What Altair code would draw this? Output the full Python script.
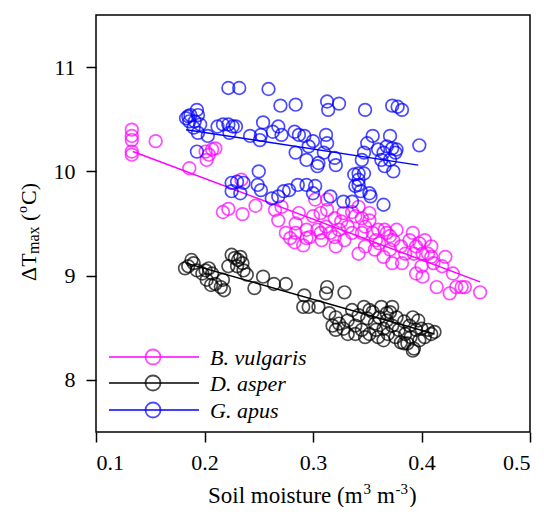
import altair as alt
import pandas as pd

# ---------------- data ----------------
series_names = ["B. vulgaris", "D. asper", "G. apus"]
series_colors = ["#ff00ff", "#000000", "#0000ff"]

bv_x = [0.133, 0.133, 0.133, 0.133, 0.133, 0.155, 0.186, 0.201, 0.204, 0.207, 0.210, 0.202,
        0.217, 0.222, 0.235, 0.247, 0.234,
        0.265, 0.268, 0.271, 0.275, 0.279, 0.284, 0.287, 0.291, 0.294, 0.297, 0.300, 0.302,
        0.304, 0.307, 0.308, 0.312, 0.313, 0.316, 0.320, 0.321, 0.324, 0.328, 0.329, 0.332,
        0.336, 0.339, 0.342, 0.342, 0.345, 0.348, 0.352, 0.355, 0.357, 0.360, 0.361, 0.365,
        0.368, 0.371, 0.373, 0.374, 0.377, 0.381, 0.382, 0.385, 0.389, 0.392, 0.393, 0.395,
        0.398, 0.400, 0.401, 0.403, 0.406, 0.409, 0.411, 0.414, 0.419, 0.422, 0.426, 0.429,
        0.432, 0.437, 0.440, 0.454,
        0.336, 0.313, 0.352, 0.366, 0.358, 0.320, 0.307, 0.294, 0.284, 0.395, 0.401, 0.409,
        0.348, 0.283, 0.326, 0.345, 0.371]
bv_y = [10.40, 10.34, 10.30, 10.19, 10.16, 10.29, 10.03, 10.19, 10.16, 10.21, 10.22, 10.11,
        9.61, 9.64, 9.59, 9.67, 9.92,
        9.63, 9.53, 9.66, 9.41, 9.36, 9.50, 9.60, 9.29, 9.44, 9.37, 9.57, 9.73,
        9.44, 9.60, 9.34, 9.47, 9.73, 9.41, 9.55, 9.28, 9.44, 9.60, 9.34, 9.47,
        9.41, 9.57, 9.66, 9.21, 9.41, 9.47, 9.60, 9.41, 9.25, 9.44, 9.31, 9.18,
        9.41, 9.25, 9.12, 9.34, 9.44, 9.28, 9.12, 9.21, 9.34, 9.41, 9.21, 9.02,
        9.31, 9.09, 8.99, 9.34, 9.21, 9.28, 9.12, 8.89, 9.09, 9.18, 8.83, 9.02,
        8.89, 8.89, 8.89, 8.84,
        9.61, 9.63, 9.53, 9.44, 9.34, 9.37, 9.41, 9.36, 9.41, 9.28, 9.21, 9.18,
        9.28, 9.32, 9.52, 9.55, 9.38]

da_x = [0.182, 0.185, 0.190, 0.193, 0.198, 0.201, 0.204, 0.207, 0.202, 0.206, 0.210, 0.215,
        0.218, 0.217, 0.188,
        0.222, 0.225, 0.228, 0.231, 0.235, 0.236, 0.230, 0.239, 0.233,
        0.246, 0.254, 0.264, 0.275,
        0.292, 0.291, 0.296, 0.305, 0.312, 0.313, 0.329, 0.315, 0.321, 0.324,
        0.328, 0.332, 0.336, 0.339, 0.342, 0.345, 0.347, 0.350, 0.352, 0.355, 0.357, 0.360,
        0.361, 0.363, 0.365, 0.368, 0.369, 0.371, 0.373, 0.376, 0.377, 0.379, 0.381, 0.384,
        0.385, 0.387, 0.389, 0.390, 0.392, 0.393, 0.395, 0.397, 0.398, 0.400, 0.403, 0.406,
        0.409, 0.412, 0.392, 0.373,
        0.318, 0.321, 0.332, 0.339, 0.348, 0.358, 0.365, 0.384, 0.352, 0.368]
da_y = [9.07, 9.09, 9.12, 9.05, 9.02, 9.05, 9.07, 9.02, 8.96, 8.91, 8.92, 8.89,
        8.86, 8.96, 9.15,
        9.09, 9.20, 9.17, 9.15, 9.12, 9.05, 9.09, 9.01, 9.18,
        8.88, 8.99, 8.92, 8.92,
        8.81, 8.70, 8.70, 8.70, 8.83, 8.89, 8.84, 8.64, 8.60, 8.54,
        8.49, 8.57, 8.67, 8.52, 8.62, 8.48, 8.70, 8.59, 8.44, 8.65, 8.54, 8.41,
        8.60, 8.70, 8.49, 8.57, 8.44, 8.65, 8.52, 8.41, 8.60, 8.48, 8.36, 8.56,
        8.44, 8.35, 8.52, 8.41, 8.60, 8.30, 8.48, 8.57, 8.38, 8.49, 8.41, 8.48,
        8.44, 8.46, 8.28, 8.70,
        8.52, 8.48, 8.44, 8.44, 8.41, 8.48, 8.38, 8.35, 8.67, 8.64]

ga_x = [0.222, 0.232, 0.259, 0.270, 0.284, 0.313, 0.314, 0.324, 0.348, 0.373, 0.378, 0.382,
        0.183, 0.187, 0.193, 0.194, 0.191, 0.196, 0.186, 0.194, 0.190, 0.185,
        0.193, 0.203, 0.212, 0.217, 0.222, 0.226, 0.229, 0.223,
        0.242, 0.252, 0.254, 0.251, 0.263, 0.268, 0.271, 0.283, 0.287, 0.292, 0.284,
        0.296, 0.300, 0.304, 0.305, 0.294, 0.312, 0.313, 0.310, 0.320, 0.321,
        0.338, 0.342, 0.347, 0.345, 0.342, 0.344, 0.347, 0.350, 0.355, 0.360, 0.365,
        0.368, 0.371, 0.373, 0.376, 0.377, 0.366, 0.374, 0.371, 0.363, 0.398,
        0.225, 0.230, 0.236, 0.233, 0.225, 0.249, 0.252, 0.250, 0.262, 0.268, 0.273,
        0.278, 0.286, 0.294, 0.302, 0.300, 0.316, 0.328, 0.336, 0.352, 0.353, 0.365,
        0.339, 0.342]
ga_y = [10.80, 10.80, 10.79, 10.63, 10.64, 10.67, 10.59, 10.65, 10.59, 10.63, 10.62, 10.59,
        10.51, 10.54, 10.59, 10.54, 10.48, 10.45, 10.48, 10.37, 10.42, 10.53,
        10.19, 10.34, 10.43, 10.45, 10.45, 10.43, 10.43, 10.37,
        10.34, 10.35, 10.47, 10.30, 10.38, 10.43, 10.35, 10.38, 10.35, 10.34, 10.18,
        10.24, 10.29, 10.05, 10.08, 10.11, 10.35, 10.27, 10.18, 10.13, 10.06,
        9.97, 9.98, 9.98, 10.11, 9.87, 9.81, 10.18, 10.27, 10.34, 10.21, 10.18,
        10.24, 10.34, 10.22, 10.18, 10.21, 10.05, 10.00, 10.11, 10.11, 10.25,
        9.89, 9.90, 9.89, 9.79, 9.81, 9.87, 9.82, 10.00, 9.74, 9.76, 9.81,
        9.82, 9.87, 9.87, 9.86, 9.79, 9.76, 9.71, 9.71, 9.79, 9.76, 9.68,
        9.86, 9.92]

# fitted-line end points
fit_x = {"B. vulgaris": [0.134, 0.454], "D. asper": [0.183, 0.412], "G. apus": [0.183, 0.397]}
fit_y = {"B. vulgaris": [10.19, 8.94], "D. asper": [9.12, 8.44], "G. apus": [10.40, 10.06]}

x_ticks = [0.1, 0.2, 0.3, 0.4, 0.5]
y_ticks = [8, 9, 10, 11]

# ---------------- build tables ----------------
pts = pd.concat([
    pd.DataFrame({"x": bv_x, "y": bv_y, "series": series_names[0]}),
    pd.DataFrame({"x": da_x, "y": da_y, "series": series_names[1]}),
    pd.DataFrame({"x": ga_x, "y": ga_y, "series": series_names[2]}),
], ignore_index=True)

fits = pd.concat([
    pd.DataFrame({"x": fit_x[s], "y": fit_y[s], "series": s}) for s in series_names
], ignore_index=True)

FONT = "Liberation Serif"
W, H = 434, 417

xscale = alt.Scale(domain=[0.1, 0.5], nice=False, zero=False)
yscale = alt.Scale(domain=[7.5, 11.5], nice=False, zero=False)
cscale = alt.Scale(domain=series_names, range=series_colors)

xaxis = alt.Axis(values=x_ticks, format=".1f", title=None, grid=False, domain=False,
                 tickSize=10, tickWidth=1.5, tickColor="black", labelFont=FONT,
                 labelFontSize=22, labelColor="black", labelPadding=10)
yaxis = alt.Axis(values=y_ticks, format="d", title=None, grid=False, domain=False,
                 tickSize=10, tickWidth=1.5, tickColor="black", labelFont=FONT,
                 labelFontSize=22, labelColor="black", labelPadding=11)

points = alt.Chart(pts).mark_point(shape="circle", filled=False, size=160, strokeWidth=1.7).encode(
    x=alt.X("x:Q", scale=xscale, axis=xaxis),
    y=alt.Y("y:Q", scale=yscale, axis=yaxis),
    color=alt.Color("series:N", scale=cscale, legend=None),
)

lines = alt.Chart(fits).mark_line(strokeWidth=1.5).encode(
    x=alt.X("x:Q", scale=xscale),
    y=alt.Y("y:Q", scale=yscale),
    color=alt.Color("series:N", scale=cscale, legend=None),
    detail="series:N",
)

# ---------------- legend (drawn manually) ----------------
legend_layers = []
row_y = [342, 368, 395]
for name, col, ry in zip(series_names, series_colors, row_y):
    d = pd.DataFrame({"label": [name]})
    legend_layers.append(alt.Chart(d).mark_rule(color=col, strokeWidth=1.5).encode(
        x=alt.value(13), x2=alt.value(103), y=alt.value(ry)))
    legend_layers.append(alt.Chart(d).mark_point(shape="circle", filled=False, size=225,
                                                 strokeWidth=1.8, color=col).encode(
        x=alt.value(57), y=alt.value(ry)))
    legend_layers.append(alt.Chart(d).mark_text(font=FONT, fontSize=22, fontStyle="italic",
                                                align="left", baseline="middle", color="black").encode(
        x=alt.value(114), y=alt.value(ry + 1), text="label:N"))

# ---------------- axis titles ----------------
def seg(text, x, y, size, align="left", angle=0, baseline="alphabetic"):
    d = pd.DataFrame({"t": [text]})
    kw = dict(font=FONT, fontSize=size, align=align, baseline=baseline, color="black")
    if angle:
        kw["angle"] = angle
    return alt.Chart(d).mark_text(**kw).encode(x=alt.value(x), y=alt.value(y), text="t:N")

# x title: Soil moisture (m3 m-3)
xt_y = 488
x_title = [
    seg("Soil moisture (m", 112, xt_y, 23),
    seg("3", 267.5, xt_y - 9, 15),
    seg("m", 281, xt_y, 23),
    seg("-3", 299.5, xt_y - 9, 15),
    seg(")", 313, xt_y, 23),
]

# y title: ΔTmax (oC)  rotated
yb = -60   # baseline x (relative to plot)
y_title = [
    seg("\u0394T", yb, 266, 22, angle=270),
    seg("max", yb + 3, 239, 16, angle=270),
    seg("(", yb, 206, 22, angle=270),
    seg("o", yb - 9.5, 198, 14, angle=270),
    seg("C)", yb, 190, 22, angle=270),
]

chart = alt.layer(lines, points, *legend_layers, *x_title, *y_title).properties(
    width=W, height=H,
    autosize=alt.AutoSizeParams(type="none"),
    padding={"left": 88, "top": 7, "right": 6, "bottom": 75},
).configure(
    background="white",
    view=alt.ViewConfig(stroke="black", strokeWidth=1.5),
)

chart.save("out.html", embed_options={"renderer": "svg", "actions": False})
